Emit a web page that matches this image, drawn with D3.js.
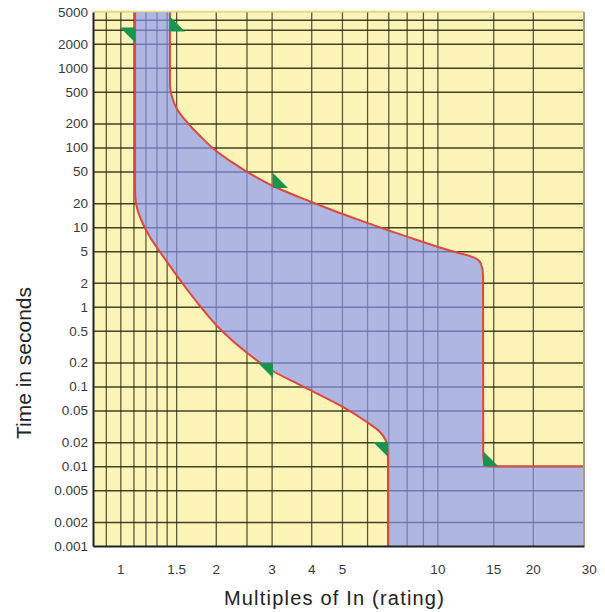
<!DOCTYPE html>
<html>
<head>
<meta charset="utf-8">
<script src="https://cdn.jsdelivr.net/npm/d3@7"></script>
<style>
  body { margin: 0; background: #fff; }
  svg text { font-family: "Liberation Sans", Arial, sans-serif; }
</style>
</head>
<body>
<div id="chart"></div>
<script>
// tick labels and grid positions
const xTicks = [1, 1.5, 2, 3, 4, 5, 10, 15, 20, 30];
const xGrid = [0.9, 1, 1.1, 1.2, 1.3, 1.4, 1.5, 2, 2.5, 3, 4, 5, 6, 7, 8, 9, 10, 15, 20];
const yTicks = [5000, 2000, 1000, 500, 200, 100, 50, 20, 10, 5, 2, 1, 0.5, 0.2, 0.1, 0.05, 0.02, 0.01, 0.005, 0.002, 0.001];
const yGrid = [4000, 3000, 2000, 1000, 500, 200, 100, 50, 20, 10, 5, 2, 1, 0.5, 0.2, 0.1, 0.05, 0.02, 0.01, 0.005, 0.002];

// minimum trip curve [multiple of In, seconds]
const lowerCurve = [
  [1.113, 5000], [1.113, 300], [1.113, 29.3], [1.12, 20.1], [1.141, 15.06],
  [1.179, 10.96], [1.24, 7.53], [1.334, 4.88], [1.456, 2.99], [1.611, 1.725],
  [1.784, 1.025], [2.093, 0.498], [2.491, 0.2716], [2.987, 0.1614],
  [3.687, 0.1047], [5.002, 0.0563], [5.955, 0.0365], [6.544, 0.0277],
  [6.86, 0.0214], [6.96, 0.016], [6.985, 0.012], [6.985, 0.001]
];
// maximum trip curve
const upperCurve = [
  [1.434, 5000], [1.434, 1200], [1.434, 607], [1.456, 430], [1.509, 304],
  [1.6, 221], [1.784, 139], [1.989, 93], [2.266, 64], [2.565, 47],
  [3.03, 32.8], [3.965, 21], [6.0, 11.3], [8.02, 7.6], [11.2, 4.95],
  [12.95, 4.2], [13.73, 3.45], [13.93, 2.5], [13.95, 0.014], [14.05, 0.0108],
  [14.5, 0.01]
];
const upperTail = [[30, 0.01]];

// green markers: right-angle corner [multiple, seconds] and orientation
const markerPoints = [[1.113, 3200], [1.434, 2850], [3.03, 31], [3.03, 0.197], [6.985, 0.0201], [13.95, 0.01]];
const markerShapes = ["ne", "sw", "sw", "ne", "ne", "sw"];

const width = 605;
const height = 612;
const margin = { top: 12, right: 21, bottom: 66, left: 93 };

const x = d3.scaleLog()
  .domain([0.82, 29])
  .range([margin.left, width - margin.right]);

const y = d3.scaleLog()
  .domain([0.001, 5000])
  .range([height - margin.bottom, margin.top]);

const svg = d3.select("#chart")
  .append("svg")
  .attr("width", width)
  .attr("height", height);

const x0 = margin.left, x1 = width - margin.right;
const y0 = height - margin.bottom, y1 = margin.top;

const defs = svg.append("defs");
defs.append("clipPath").attr("id", "plotClip")
  .append("rect")
  .attr("x", x0).attr("y", y1)
  .attr("width", x1 - x0).attr("height", y0 - y1);

const line = d3.line()
  .x((d) => x(d[0]))
  .y((d) => y(d[1]))
  .curve(d3.curveMonotoneY);

const lowerPath = line(lowerCurve);
const upperPath = line(upperCurve) + upperTail.map((d) => `L${x(d[0])},${y(d[1])}`).join("");

// region to the right of the minimum curve
defs.append("clipPath").attr("id", "rightOfLower")
  .append("path")
  .attr("d", lowerPath + `L${x1 + 20},${y0}L${x1 + 20},${y1}Z`);

// yellow background
svg.append("rect")
  .attr("x", x0).attr("y", y1 - 2)
  .attr("width", x1 - x0).attr("height", y0 - y1 + 2)
  .attr("fill", "#fdf4b8");

// grid
const gridX = svg.append("g")
  .attr("transform", `translate(0,${y0})`)
  .call(d3.axisBottom(x).tickValues(xGrid).tickSize(-(y0 - y1)).tickFormat(""));
gridX.select(".domain").remove();
gridX.selectAll("line").attr("stroke", "#34331a").attr("stroke-opacity", 0.8).attr("stroke-width", 1.3);

const gridY = svg.append("g")
  .attr("transform", `translate(${x0},0)`)
  .call(d3.axisLeft(y).tickValues(yGrid).tickSize(-(x1 - x0)).tickFormat(""));
gridY.select(".domain").remove();
gridY.selectAll("line").attr("stroke", "#2a2912").attr("stroke-opacity", 0.88).attr("stroke-width", 1.5);

const plot = svg.append("g").attr("clip-path", "url(#plotClip)");

// blue band between the two curves, laid over the grid
plot.append("g")
  .attr("clip-path", "url(#rightOfLower)")
  .append("path")
  .attr("d", upperPath + `L${x1 + 20},${y(0.01)}L${x1 + 20},${y0 + 20}L${x0 - 20},${y0 + 20}L${x0 - 20},${y1}Z`)
  .attr("fill", "rgb(136,150,248)")
  .attr("fill-opacity", 0.66);

// red curves
plot.append("path")
  .attr("d", lowerPath)
  .attr("fill", "none")
  .attr("stroke", "#e0473c")
  .attr("stroke-width", 2);

plot.append("path")
  .attr("d", upperPath)
  .attr("fill", "none")
  .attr("stroke", "#e0473c")
  .attr("stroke-width", 2);

// markers
const s = 15;
svg.append("g")
  .selectAll("path")
  .data(markerPoints)
  .join("path")
  .attr("d", (d, i) => {
    const px = x(d[0]), py = y(d[1]);
    return markerShapes[i] === "ne"
      ? `M${px - s},${py}L${px},${py}L${px},${py + s}Z`
      : `M${px},${py - s}L${px},${py}L${px + s},${py}Z`;
  })
  .attr("fill", "#18944c");

// frame
svg.append("line")
  .attr("x1", x0).attr("x2", x1).attr("y1", y1).attr("y2", y1)
  .attr("stroke", "#c9c299").attr("stroke-width", 1);
svg.append("line")
  .attr("x1", x1).attr("x2", x1).attr("y1", y1).attr("y2", y0)
  .attr("stroke", "#a9a27c").attr("stroke-width", 2);

// axes with labels
const xAxis = svg.append("g")
  .attr("transform", `translate(0,${y0})`)
  .call(d3.axisBottom(x).tickValues(xTicks).tickSize(0).tickPadding(18).tickFormat(d3.format("~g")));
xAxis.select(".domain").attr("stroke", "#222").attr("stroke-width", 2);
xAxis.selectAll("text").attr("font-size", 13.5).attr("fill", "#3a3a3a");

const yAxis = svg.append("g")
  .attr("transform", `translate(${x0},0)`)
  .call(d3.axisLeft(y).tickValues(yTicks).tickSize(0).tickPadding(5).tickFormat(d3.format("~g")));
yAxis.select(".domain").attr("stroke", "#222").attr("stroke-width", 2);
yAxis.selectAll("text").attr("font-size", 13.5).attr("fill", "#3a3a3a");

// axis titles
svg.append("text")
  .attr("x", (x0 + x1) / 2 - 4)
  .attr("y", 605)
  .attr("text-anchor", "middle")
  .attr("font-size", 20)
  .attr("letter-spacing", 1.2)
  .attr("fill", "#222")
  .text("Multiples of In (rating)");

svg.append("text")
  .attr("transform", `translate(31,${363}) rotate(-90)`)
  .attr("text-anchor", "middle")
  .attr("font-size", 21)
  .attr("fill", "#222")
  .text("Time in seconds");
</script>
</body>
</html>
